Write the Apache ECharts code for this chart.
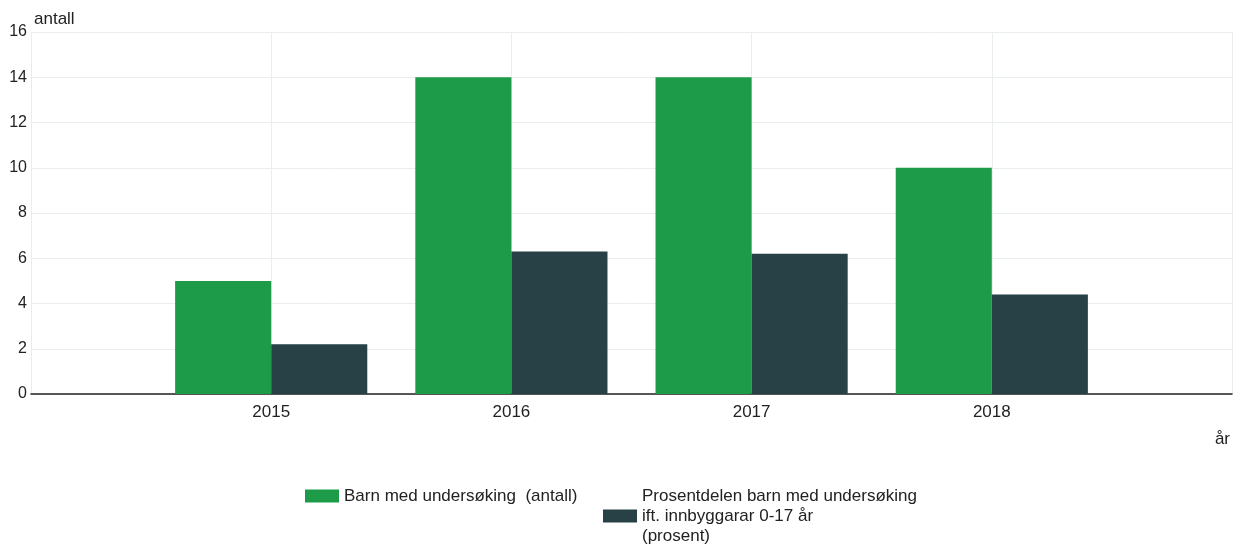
<!DOCTYPE html>
<html>
<head>
<meta charset="utf-8">
<style>
  html, body { margin: 0; padding: 0; background: #fff; }
  #chart { width: 1238px; height: 544px; }
</style>
<script src="https://cdn.jsdelivr.net/npm/echarts@6/dist/echarts.min.js"></script>
</head>
<body>
<div id="chart"></div>
<script>
// Years on the x axis
const years = ['2015', '2016', '2017', '2018'];
// Number of children with an examination
const barnAntall = [5, 14, 14, 10];
// Share of children with an examination relative to residents 0-17 (percent)
const barnProsent = [2.2, 6.3, 6.2, 4.4];
// Value axis ticks
const yTicks = [0, 2, 4, 6, 8, 10, 12, 14, 16];

const seriesNames = [
  'Barn med undersøking  (antall)',
  'Prosentdelen barn med undersøking\nift. innbyggarar 0-17 år\n(prosent)'
];

// An empty slot on each side gives the half-band padding around the years
const axisCats = [''].concat(years, ['']);
const pad = arr => [null].concat(arr, [null]);

const font = 'Liberation Sans, Arial, sans-serif';
const textColor = '#222';
const chart = echarts.init(document.getElementById('chart'), null, { renderer: 'canvas' });

// Two legends so each item is top-aligned on its own
const legendBase = {
  orient: 'horizontal',
  top: 481,
  itemWidth: 34,
  itemHeight: 13,
  icon: 'rect',
  selectedMode: false,
  textStyle: { fontFamily: font, fontSize: 17, color: textColor, lineHeight: 20 }
};

chart.setOption({
  animation: false,
  textStyle: { fontFamily: font },
  grid: { left: 31, right: 6, top: 32, bottom: 150, containLabel: false },
  legend: [
    Object.assign({}, legendBase, { left: 300, data: [seriesNames[0]] }),
    Object.assign({}, legendBase, { left: 598, data: [seriesNames[1]] })
  ],
  xAxis: {
    type: 'category',
    data: axisCats,
    boundaryGap: false,
    name: 'år',
    nameLocation: 'end',
    nameGap: 0,
    nameTextStyle: {
      fontFamily: font, fontSize: 17, color: textColor,
      align: 'right', verticalAlign: 'top', padding: [37, 2, 0, 0]
    },
    axisLine: { show: true, lineStyle: { color: '#222', width: 1.5 } },
    axisTick: { show: false },
    axisLabel: { fontFamily: font, fontSize: 17, color: textColor, margin: 10, interval: 0 },
    splitLine: { show: true, lineStyle: { color: '#e8eded', width: 1 } }
  },
  yAxis: {
    type: 'value',
    min: yTicks[0],
    max: yTicks[yTicks.length - 1],
    interval: yTicks[1] - yTicks[0],
    name: 'antall',
    nameLocation: 'end',
    nameGap: 4,
    nameTextStyle: {
      fontFamily: font, fontSize: 17, color: textColor,
      align: 'left', padding: [0, 0, 0, 3]
    },
    axisLine: { show: false },
    axisTick: { show: false },
    axisLabel: { fontFamily: font, fontSize: 16, color: textColor, margin: 4 },
    splitLine: { show: true, lineStyle: { color: '#e8eded', width: 1 } }
  },
  series: [
    {
      name: seriesNames[0],
      type: 'bar',
      data: pad(barnAntall),
      barGap: '0%',
      barCategoryGap: '20%',
      itemStyle: { color: '#1d9b48' }
    },
    {
      name: seriesNames[1],
      type: 'bar',
      data: pad(barnProsent),
      barGap: '0%',
      barCategoryGap: '20%',
      itemStyle: { color: '#274147' }
    }
  ]
});
</script>
</body>
</html>
